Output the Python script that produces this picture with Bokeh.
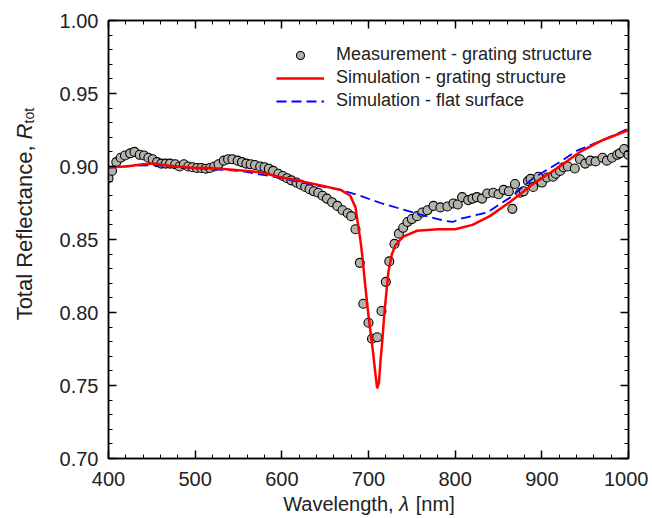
import math
from bokeh.plotting import figure
from bokeh.models import (Range1d, LinearAxis, SingleIntervalTicker, PrintfTickFormatter,
                          Legend, LegendItem, Label)
from bokeh.layouts import row, column
from bokeh.embed import file_html
from bokeh.resources import INLINE

# ---------------- data ----------------
meas_x = [400, 404, 409, 414, 419, 425, 430, 436, 441, 446, 451, 456, 461, 466, 471,
          477, 482, 487, 492, 497, 502, 507, 512, 517, 522, 527, 533, 538, 543, 549,
          554, 559, 564, 569, 575, 580, 585, 590, 596, 601, 606, 611, 617, 622, 627,
          632, 637, 642, 647, 652, 658, 664, 670, 676, 680, 685, 690, 694, 700, 704,
          710, 715, 720, 724, 730, 735, 740, 745, 750, 756, 762, 768, 775, 783, 791,
          798, 803, 808, 815, 820, 825, 831, 837, 844, 850, 856, 862, 866, 869, 875,
          879, 884, 887, 890, 896, 900, 906, 913, 916, 921, 925, 930, 938, 944, 950,
          956, 962, 970, 975, 981, 987, 990, 995, 1000]
meas_y = [0.892, 0.897, 0.903, 0.906, 0.9075, 0.909, 0.910, 0.908, 0.9075, 0.906,
          0.905, 0.903, 0.902, 0.902, 0.902, 0.9015, 0.900, 0.9015, 0.900, 0.8995,
          0.899, 0.899, 0.8985, 0.899, 0.900, 0.9015, 0.904, 0.905, 0.905, 0.904,
          0.903, 0.902, 0.9015, 0.901, 0.900, 0.8995, 0.8985, 0.897, 0.895, 0.8935,
          0.892, 0.8905, 0.889, 0.8875, 0.886, 0.8845, 0.883, 0.882, 0.880, 0.878,
          0.8755, 0.873, 0.870, 0.868, 0.866, 0.857, 0.834, 0.806, 0.793, 0.782,
          0.783, 0.801, 0.821, 0.835, 0.847, 0.854, 0.858, 0.862, 0.864, 0.866,
          0.8685, 0.870, 0.873, 0.872, 0.8726, 0.8747, 0.874, 0.879, 0.877, 0.878,
          0.879, 0.878, 0.8815, 0.882, 0.881, 0.884, 0.883, 0.871, 0.888, 0.882,
          0.883, 0.890, 0.8915, 0.886, 0.893, 0.889, 0.8925, 0.893, 0.895, 0.897,
          0.8995, 0.900, 0.8986, 0.905, 0.902, 0.904, 0.9035, 0.906, 0.904, 0.906,
          0.908, 0.909, 0.912, 0.908]

grat_x = [400, 420, 440, 452, 470, 500, 518, 540, 560, 575, 600, 622, 645, 668, 679,
          685, 688, 691, 693, 696, 699, 702, 705, 708, 710, 712, 714, 716, 718, 720,
          723, 727, 731, 740, 756, 780, 800, 820, 840, 864, 890, 918, 944, 970, 1000]
grat_y = [0.8995, 0.900, 0.9015, 0.902, 0.9005, 0.899, 0.899, 0.898, 0.897, 0.896,
          0.8925, 0.890, 0.887, 0.884, 0.880, 0.872, 0.860, 0.848, 0.838, 0.820,
          0.803, 0.788, 0.774, 0.758, 0.748, 0.752, 0.768, 0.781, 0.797, 0.810,
          0.828, 0.840, 0.846, 0.852, 0.856, 0.857, 0.857, 0.860, 0.866, 0.876,
          0.888, 0.899, 0.910, 0.918, 0.925]

flat_x = [400, 414, 451, 495, 552, 595, 640, 668, 690, 714, 737, 760, 786, 797, 808,
          837, 864, 890, 918, 941, 970, 1000]
flat_y = [0.899, 0.900, 0.901, 0.899, 0.897, 0.8925, 0.887, 0.884, 0.880, 0.875,
          0.871, 0.867, 0.863, 0.862, 0.8645, 0.8685, 0.879, 0.892, 0.902, 0.911,
          0.918, 0.926]

x_ticks = [400, 500, 600, 700, 800, 900, 1000]
y_ticks = [0.70, 0.75, 0.80, 0.85, 0.90, 0.95, 1.00]

legend_labels = ["Measurement - grating structure",
                 "Simulation - grating structure",
                 "Simulation - flat surface"]

FONT = "Liberation Sans"
TXT = "#222222"

YT_W = 48          # width of the y-title strip
MAIN_W, MAIN_H = 600, 494
XT_H = 22          # height of the x-title strip
TOTAL_H = MAIN_H + XT_H

p = figure(width=MAIN_W, height=MAIN_H, output_backend="svg", toolbar_location=None,
           x_range=Range1d(x_ticks[0], x_ticks[-1]), y_range=Range1d(y_ticks[0], y_ticks[-1]),
           x_axis_location=None, y_axis_location=None,
           min_border_left=60, min_border_right=20, min_border_top=20, min_border_bottom=36)
p.grid.visible = False
p.background_fill_color = "white"
p.border_fill_color = "white"
p.outline_line_color = "black"
p.outline_line_width = 1.5


def make_axis(kind, show_labels):
    if kind == "x":
        ax = LinearAxis(ticker=SingleIntervalTicker(interval=100, num_minor_ticks=5))
    else:
        ax = LinearAxis(ticker=SingleIntervalTicker(interval=0.05, num_minor_ticks=5),
                        formatter=PrintfTickFormatter(format="%.2f"))
    ax.axis_line_color = "black"
    ax.axis_line_width = 1.5
    ax.major_tick_in = 8
    ax.major_tick_out = 0
    ax.minor_tick_in = 4
    ax.minor_tick_out = 0
    ax.major_tick_line_width = 1.5
    ax.minor_tick_line_width = 1
    ax.major_tick_line_color = "black"
    ax.minor_tick_line_color = "black"
    if show_labels:
        ax.major_label_text_font = FONT
        ax.major_label_text_font_size = "20px"
        ax.major_label_text_color = TXT
        ax.major_label_standoff = 13 if kind == "x" else 10
    else:
        ax.major_label_text_color = None
        ax.major_label_text_font_size = "0px"
        ax.major_label_standoff = 0
    return ax


p.add_layout(make_axis("x", True), "below")
p.add_layout(make_axis("y", True), "left")
p.add_layout(make_axis("x", False), "above")
p.add_layout(make_axis("y", False), "right")

r_meas = p.scatter(meas_x, meas_y, marker="circle", size=9, fill_color="#b3b3ab",
                   line_color="black", line_width=1.1)
r_flat = p.line(flat_x, flat_y, line_color="#0000ff", line_width=1.8, line_dash="10 5")
r_grat = p.line(grat_x, grat_y, line_color="#ff0000", line_width=2.5)

legend = Legend(items=[LegendItem(label=legend_labels[0], renderers=[r_meas]),
                       LegendItem(label=legend_labels[1], renderers=[r_grat]),
                       LegendItem(label=legend_labels[2], renderers=[r_flat])],
                location=(168, 347), orientation="vertical",
                glyph_width=48, glyph_height=20, label_height=20, spacing=2,
                label_standoff=12, padding=0, margin=0,
                border_line_color=None, background_fill_alpha=0,
                label_text_font=FONT, label_text_font_size="18px",
                label_text_color=TXT)
p.add_layout(legend, "center")


def strip(w, h):
    f = figure(width=w, height=h, output_backend="svg", toolbar_location=None,
               x_range=Range1d(0, w), y_range=Range1d(0, h),
               x_axis_location=None, y_axis_location=None,
               min_border_left=0, min_border_right=0, min_border_top=0, min_border_bottom=0)
    f.grid.visible = False
    f.outline_line_color = None
    f.background_fill_color = "white"
    f.border_fill_color = "white"
    return f


common = dict(x_units="screen", y_units="screen", text_color=TXT, text_font=FONT,
              text_baseline="alphabetic")

# x-axis title strip (below the main plot); its frame lines up with the main frame
xt = strip(MAIN_W, XT_H)
xt.add_layout(Label(x=285.1, y=13, text="Wavelength,", text_align="right",
                    text_font_size="20px", **common))
xt.add_layout(Label(x=290.7, y=13, text="λ", text_align="left", text_font_style="italic",
                    text_font_size="20px", **common))
xt.add_layout(Label(x=307.3, y=13, text="[nm]", text_align="left",
                    text_font_size="20px", **common))

# y-axis title strip (left of the main plot), rotated text
yt = strip(YT_W, TOTAL_H)
ang = math.pi / 2
yt.add_layout(Label(x=24, y=TOTAL_H - 145, text="Total Reflectance,", angle=ang,
                    text_align="right", text_font_size="22px", **common))
yt.add_layout(Label(x=24, y=TOTAL_H - 139, text="R", angle=ang, text_align="left",
                    text_font_style="italic", text_font_size="22px", **common))
yt.add_layout(Label(x=28, y=TOTAL_H - 123, text="tot", angle=ang, text_align="left",
                    text_font_size="14px", **common))

layout = row(yt, column(p, xt))
open("out.html", "w").write(file_html(layout, INLINE))
